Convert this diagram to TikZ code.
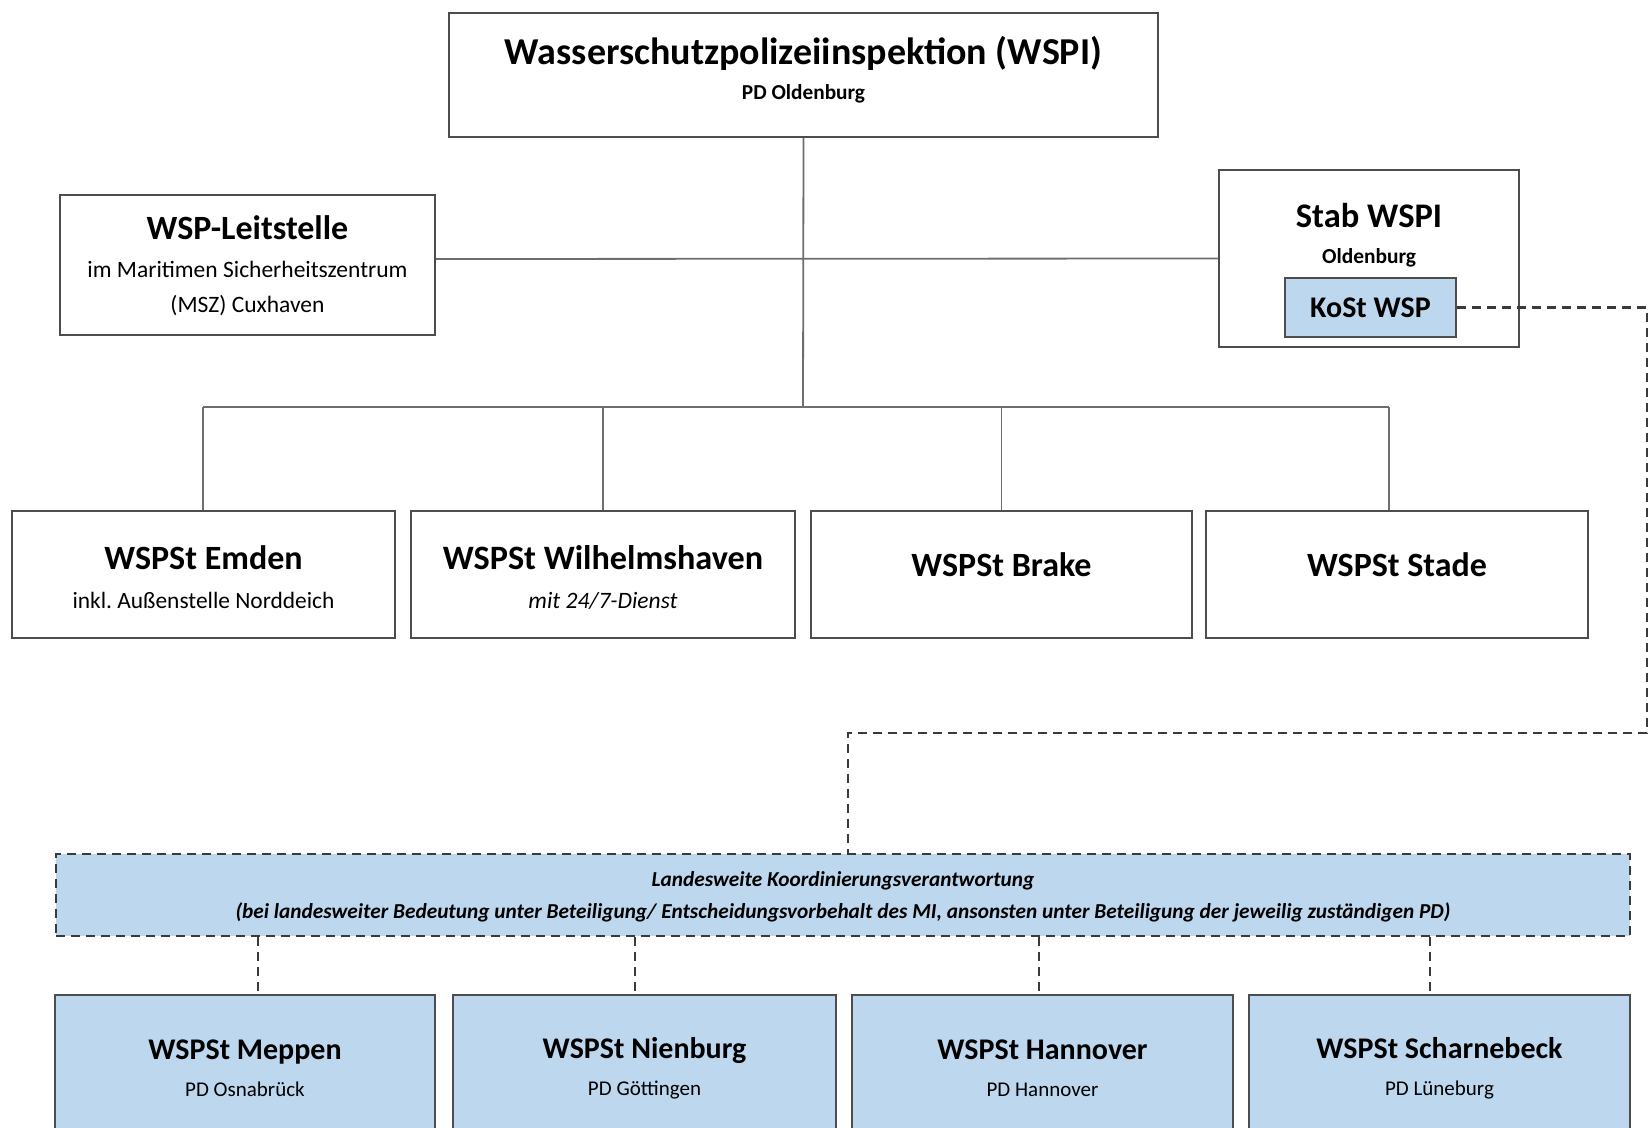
\documentclass[tikz,border=0pt]{standalone}
\usepackage{fontspec}
\setmainfont{Carlito}
\frenchspacing
\definecolor{lblue}{HTML}{BDD7EE}
\definecolor{bord}{HTML}{4D4D4D}
\definecolor{conn}{HTML}{6E6E6E}
\definecolor{dsh}{HTML}{3A3A3A}
\tikzset{
  box/.style={draw=bord, line width=2.2pt, fill=white, inner sep=0pt, align=center},
  bluebox/.style={box, fill=lblue},
  txt/.style={inner sep=0pt, align=center},
  conline/.style={draw=conn, line width=1.8pt},
  dashline/.style={draw=dsh, line width=2.6pt, dash pattern=on 9pt off 6pt},
}
\newcommand{\fs}[2]{\fontsize{#1}{#2}\selectfont}
\newcommand{\up}[2]{\raisebox{#1}[\height][\depth]{#2}}
\begin{document}
\begin{tikzpicture}[x=1pt,y=-1pt]
\clip (0,0) rectangle (1649,1127);
\fill[white] (0,0) rectangle (1649,1127);

% top
\node[box, minimum width=709pt, minimum height=124pt, font=\fs{21.3}{35}\bfseries] (top) at (803.5,75)
  {\up{5.3pt}{\fs{38}{35}Wasserschutzpolizeiinspektion (WSPI)}\\\up{5.3pt}{PD Oldenburg}};

\node[box, minimum width=375pt, minimum height=140pt, font=\fs{23.5}{35}] (leit) at (247.5,265)
  {\up{-1.5pt}{\fs{34}{35}\bfseries WSP-Leitstelle}\\[5pt]im Maritimen Sicherheitszentrum\\(MSZ) Cuxhaven};

\node[box, minimum width=300pt, minimum height=177pt] (stab) at (1369,258.5) {};
\node[txt, font=\fs{21.4}{36}\bfseries] (stabt) at (1369,235)
  {{\fs{34.5}{36}Stab WSPI}\\Oldenburg};
\node[bluebox, minimum width=171pt, minimum height=59pt, font=\fs{30}{36}\bfseries] (kost) at (1370.5,307.5) {KoSt WSP};

% stations
\node[box, minimum width=383pt, minimum height=127pt, font=\fs{23.4}{39}] (emden) at (203.5,574.5)
  {\up{-3pt}{\fs{34}{39}\bfseries WSPSt Emden}\\\up{-3pt}{inkl. Außenstelle Norddeich}};
\node[box, minimum width=384pt, minimum height=127pt, font=\fs{23.5}{39}\itshape] (wilh) at (603,574.5)
  {\up{-3pt}{\fs{34.2}{39}\bfseries\upshape WSPSt Wilhelmshaven}\\\up{-3pt}{mit 24/7-Dienst}};
\node[box, minimum width=381pt, minimum height=127pt, font=\fs{34}{40}\bfseries] (brake) at (1001.5,574.5) {\up{9.5pt}{WSPSt Brake}};
\node[box, minimum width=382pt, minimum height=127pt, font=\fs{34}{40}\bfseries] (stade) at (1397,574.5) {\up{9.5pt}{WSPSt Stade}};

% connectors
\coordinate (tb) at (803,407);
\coordinate (bl) at (203,407);
\coordinate (br) at (1389,407);
\draw[conline] (top.south) -- (tb);
\draw[conline] ([yshift=6pt]leit.east) -- (stab.west);
\draw[conline] (bl) -- (br);
\draw[conline] (bl) -- (bl |- emden.north);
\draw[conline] (wilh.north |- tb) -- (wilh.north);
\draw[conline] (brake.north |- tb) -- (brake.north);
\draw[conline] (br) -- (br |- stade.north);

% coordination
\node[bluebox, draw=dsh, line width=2.6pt, dash pattern=on 9pt off 6pt, minimum width=1574pt, minimum height=82pt,
  font=\fs{21.3}{32}\bfseries\itshape] (koord) at (843,895)
  {\up{-2pt}{Landesweite Koordinierungsverantwortung}\\\up{-2pt}{(bei landesweiter Bedeutung unter Beteiligung/ Entscheidungsvorbehalt des MI, ansonsten unter Beteiligung der jeweilig zuständigen PD)}};

\coordinate (d1) at (1647,733);
\coordinate (d2) at (848,733);
\draw[dashline] (kost.east) -| (d1) -- (d2) -- (d2 |- koord.north);

% lower boxes
\node[bluebox, minimum width=380pt, minimum height=170pt] (meppen) at (245,1080) {};
\node[bluebox, minimum width=383pt, minimum height=170pt] (nien) at (644.5,1080) {};
\node[bluebox, minimum width=381pt, minimum height=170pt] (hann) at (1042.5,1080) {};
\node[bluebox, minimum width=381pt, minimum height=170pt] (schar) at (1439.5,1080) {};
\node[txt, font=\fs{21}{37}] (meppent) at (245,1068) {{\fs{30}{37}\bfseries WSPSt Meppen}\\PD Osnabrück};
\node[txt, font=\fs{21}{37}] (nient) at (644.5,1068) {{\fs{30}{37}\bfseries WSPSt Nienburg}\\PD Göttingen};
\node[txt, font=\fs{21}{37}] (hannt) at (1042.5,1068) {{\fs{30}{37}\bfseries WSPSt Hannover}\\PD Hannover};
\node[txt, font=\fs{21}{37}] (schart) at (1439.5,1068) {{\fs{30}{37}\bfseries WSPSt Scharnebeck}\\PD Lüneburg};

\coordinate (x1) at (258,0);
\coordinate (x2) at (635,0);
\coordinate (x3) at (1039,0);
\coordinate (x4) at (1430,0);
\draw[dashline] (x1 |- koord.south) -- (x1 |- meppen.north);
\draw[dashline] (x2 |- koord.south) -- (x2 |- nien.north);
\draw[dashline] (x3 |- koord.south) -- (x3 |- hann.north);
\draw[dashline] (x4 |- koord.south) -- (x4 |- schar.north);
\end{tikzpicture}
\end{document}
